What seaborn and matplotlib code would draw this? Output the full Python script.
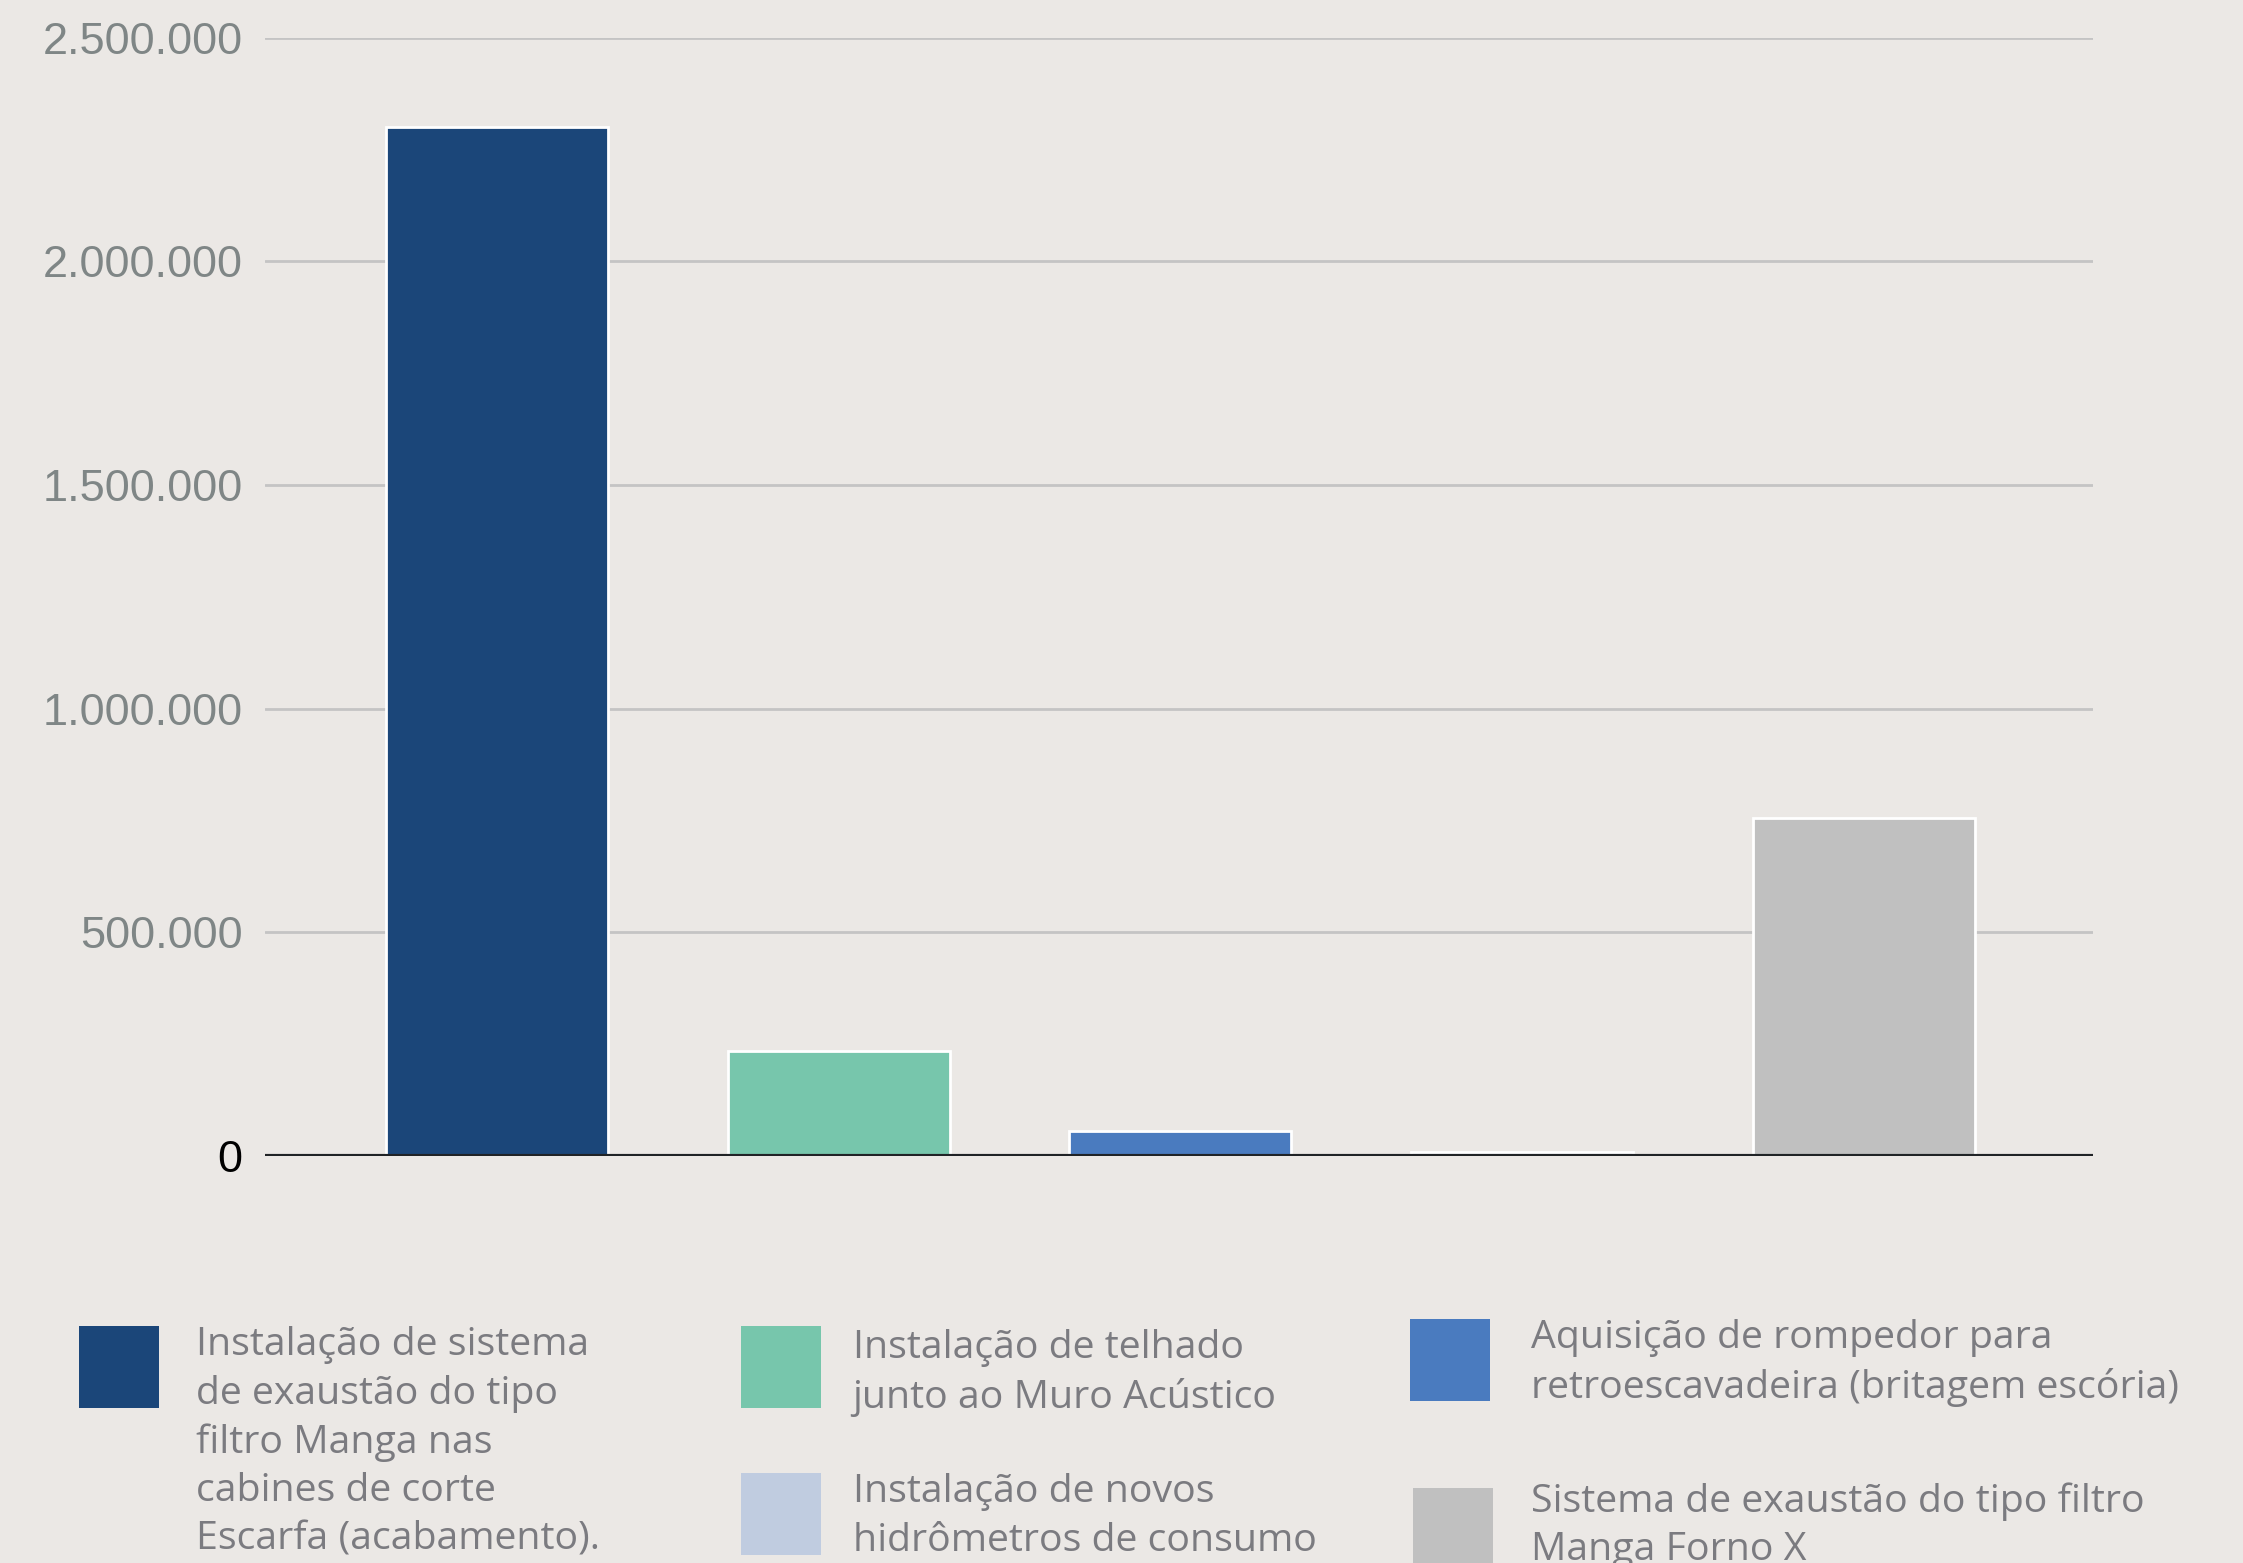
import pandas as pd
import matplotlib.pyplot as plt
import matplotlib.ticker as mticker
from matplotlib.patches import Rectangle
import seaborn as sns

# Data
projetos = [
    'Instalação de sistema\nde exaustão do tipo\nfiltro Manga nas\ncabines de corte\nEscarfa (acabamento).',
    'Instalação de telhado\njunto ao Muro Acústico',
    'Aquisição de rompedor para\nretroescavadeira (britagem escória)',
    'Instalação de novos\nhidrômetros de consumo',
    'Sistema de exaustão do tipo filtro\nManga Forno X',
]
valores = [2300000, 235000, 55000, 8000, 755000]
cores = ['#1b4679', '#77c6ac', '#4a7bbf', '#c0cce0', '#c0c0c0']
y_ticks = [0, 500000, 1000000, 1500000, 2000000, 2500000]

df = pd.DataFrame({'projeto': projetos, 'valor': valores})

bg = '#ebe8e5'
sns.set_theme(style='white')
plt.rcParams['font.family'] = ['Liberation Sans', 'DejaVu Sans']

fig = plt.figure(figsize=(22.43, 15.63), dpi=100, facecolor=bg)
ax = fig.add_axes([0.118, 0.2604, 0.815, 0.7156], facecolor=bg)

sns.barplot(data=df, x='projeto', y='valor', hue='projeto', palette=cores,
            saturation=1, width=0.65, edgecolor='white', linewidth=2,
            legend=False, ax=ax, zorder=2)

ax.set_xlim(-0.68, 4.67)
ax.set_ylim(0, 2500000)
ax.set_yticks(y_ticks)
ax.yaxis.set_major_formatter(mticker.FuncFormatter(
    lambda v, p: f'{int(v):,}'.replace(',', '.')))
ax.set_xticks([])
ax.set_xlabel('')
ax.set_ylabel('')
for s in ax.spines.values():
    s.set_visible(False)
ax.grid(axis='y', color='#c4c4c4', linewidth=2, zorder=0)
ax.set_axisbelow(True)
ax.axhline(0, color='#202326', linewidth=3, zorder=3)
ax.tick_params(axis='y', length=0, pad=16, labelsize=32.5, labelcolor='#7f8686')
for lbl in ax.get_yticklabels():
    if lbl.get_text() == '0':
        lbl.set_color('black')

# Legend laid out by hand, like the original
W, H = 2243, 1563
s = 1.4305
entradas = [
    (0, 55, 927, 137, 940),
    (1, 518, 927, 596, 942),
    (2, 986, 922, 1070, 935),
    (3, 518, 1030, 596, 1043),
    (4, 988, 1040, 1070, 1049),
]
for i, px, py, tx, ty in entradas:
    x0 = px * s / W
    y0 = 1 - (py * s + 82) / H
    fig.add_artist(Rectangle((x0, y0), 80 / W, 82 / H, transform=fig.transFigure,
                             facecolor=cores[i], edgecolor='none'))
    fig.text(tx * s / W, 1 - ((ty - 13) * s) / H, projetos[i], ha='left', va='top',
             fontsize=28.3, color='#7b7b80', linespacing=1.36,
             family=['Open Sans', 'DejaVu Sans'])

fig.savefig('out.png', dpi=100, facecolor=bg)
